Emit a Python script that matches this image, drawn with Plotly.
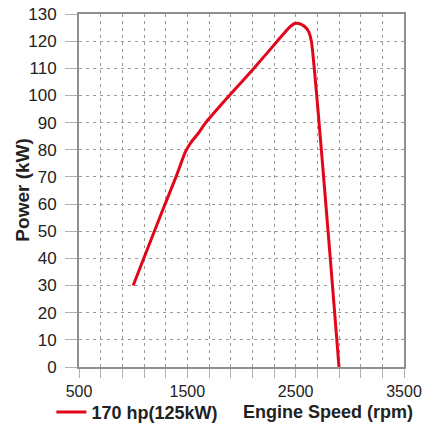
import plotly.graph_objects as go

# Data
rpm = [1000, 1250, 1400, 1480, 1530, 1600, 1670, 1900, 2115, 2330, 2440, 2490, 2530, 2580, 2620, 2645, 2900]
power_kw = [30, 55.5, 70.5, 79, 82.5, 86, 90, 100.5, 110, 120, 125, 126.5, 126.5, 125.5, 123.5, 120, 0]

x_tickvals = list(range(500, 3501, 200))
x_labelled = [500, 1500, 2500, 3500]
x_ticktext = [str(v) if v in x_labelled else "" for v in x_tickvals]
y_tickvals = list(range(0, 131, 10))

series_name = "170 hp(125kW)"
x_title = "Engine Speed (rpm)"
y_title = "Power (kW)"

RED = "#e3061b"
GRID = "#999999"
AXIS = "#8f8f8f"
FONT = "Liberation Sans, Arial, sans-serif"

fig = go.Figure()
fig.add_trace(go.Scatter(
    x=rpm, y=power_kw, mode="lines", name=series_name,
    line=dict(color=RED, width=3, shape="spline", smoothing=0.5),
))

fig.update_layout(
    width=424, height=427,
    margin=dict(l=79, r=20, t=14, b=60, autoexpand=False),
    paper_bgcolor="white", plot_bgcolor="white",
    font=dict(family=FONT, color="#222222", size=15),
    showlegend=True,
    legend=dict(orientation="h", x=-0.085, y=-0.128, xanchor="left", yanchor="middle",
                font=dict(family=FONT, size=18, color="#222222", weight="bold"),
                bgcolor="rgba(0,0,0,0)", itemwidth=30, tracegroupgap=0),
    annotations=[
        dict(text=x_title, xref="paper", yref="paper", x=0.766, y=-0.128,
             xanchor="center", yanchor="middle", showarrow=False,
             font=dict(family=FONT, size=18, color="#222222", weight="bold")),
        dict(text=y_title, xref="paper", yref="paper", x=-0.175, y=0.5,
             xanchor="center", yanchor="middle", showarrow=False, textangle=-90,
             font=dict(family=FONT, size=19, color="#222222", weight="bold")),
    ],
)

fig.update_xaxes(
    range=[500, 3500], tickvals=x_tickvals, ticktext=x_ticktext,
    showgrid=True, gridcolor=GRID, griddash="3px,4px", gridwidth=1,
    showline=True, linecolor=AXIS, linewidth=2, mirror=True,
    ticks="outside", ticklen=9, tickcolor="#b0b0b0", tickwidth=1,
    tickfont=dict(family=FONT, size=16, color="#222222"),
    zeroline=False, automargin=False,
)
fig.update_yaxes(
    range=[0, 130], tickvals=y_tickvals,
    showgrid=True, gridcolor=GRID, griddash="3px,4px", gridwidth=1,
    showline=True, linecolor=AXIS, linewidth=2, mirror=True,
    ticks="outside", ticklen=12, tickcolor="#b0b0b0", tickwidth=1,
    tickfont=dict(family=FONT, size=17, color="#222222"),
    ticklabelstandoff=5,
    zeroline=False, automargin=False,
)

# remove the default page margin so the figure fills the window exactly
fig.write_html("out.html", config={"displayModeBar": False},
               post_script="document.body.style.margin='0';")
